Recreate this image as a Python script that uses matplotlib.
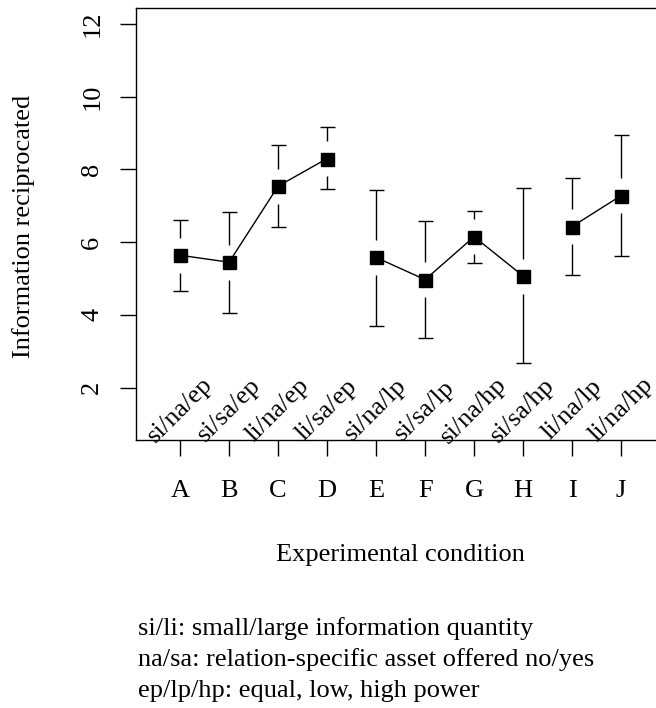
import matplotlib
matplotlib.use("Agg")
import matplotlib.pyplot as plt
import numpy as np

# ---- data ----
conditions = ["A", "B", "C", "D", "E", "F", "G", "H", "I", "J"]
codes = ["si/na/ep", "si/sa/ep", "li/na/ep", "li/sa/ep", "si/na/lp",
         "si/sa/lp", "si/na/hp", "si/sa/hp", "li/na/lp", "li/na/hp"]
means = [5.64, 5.45, 7.54, 8.30, 5.58, 4.97, 6.15, 5.07, 6.43, 7.28]
lower = [4.65, 4.05, 6.41, 7.45, 3.70, 3.36, 5.44, 2.67, 5.11, 5.63]
upper = [6.61, 6.84, 8.67, 9.16, 7.44, 6.59, 6.85, 7.50, 7.76, 8.94]
groups = [0, 0, 0, 0, 1, 1, 1, 1, 2, 2]
yticks = [2, 4, 6, 8, 10, 12]
notes = ["si/li: small/large information quantity",
         "na/sa: relation-specific asset offered no/yes",
         "ep/lp/hp: equal, low, high power"]

plt.rcParams['font.family'] = ['Liberation Serif', 'DejaVu Serif']
FS = 19

W, H = 656, 708
fig = plt.figure(figsize=(W / 100, H / 100), dpi=100)
L, R, T, B = 136, 665.2, 8, 440
ax = fig.add_axes([L / W, 1 - B / H, (R - L) / W, (B - T) / H])

x = np.arange(1, len(conditions) + 1)
m = np.array(means)
lo = np.array(lower)
hi = np.array(upper)
g = np.array(groups)

ax.set_xlim(0.1, 10.9)
ax.set_ylim(0.56, 12.44)

# pixel -> data conversions for gap around the markers
px_per_y = (B - T) / (12.44 - 0.56)
gap = 17.5 / px_per_y

for gi in np.unique(g):
    sel = g == gi
    ax.plot(x[sel], m[sel], color="black", lw=1.0, zorder=2)

ax.vlines(x, m + gap, hi, color="black", lw=1.0, zorder=2)
ax.vlines(x, lo, m - gap, color="black", lw=1.0, zorder=2)
cap = 15 * 0.72
ax.plot(x, hi, ls="none", marker="_", ms=cap, mew=1.0, color="black", zorder=2)
ax.plot(x, lo, ls="none", marker="_", ms=cap, mew=1.0, color="black", zorder=2)
ax.plot(x, m, ls="none", marker="s", ms=13 * 0.72, color="black", zorder=3)

for xi, c in zip(x, codes):
    ax.text(xi, 1.38, c, rotation=45, rotation_mode="anchor",
            ha="center", va="center", fontsize=FS)

ax.set_xticks(x)
ax.set_xticklabels(conditions, fontsize=FS)
ax.set_yticks(yticks)
ax.set_yticklabels([str(v) for v in yticks], fontsize=FS, rotation=90,
                   va="center")
ax.tick_params(axis="x", length=11.5, width=1.0, pad=17)
ax.tick_params(axis="y", length=11.5, width=1.0, pad=12)
for s in ax.spines.values():
    s.set_linewidth(1.0)

fig.text(400 / W, 1 - 561 / H, "Experimental condition", ha="center",
         va="baseline", fontsize=FS)
fig.text(30 / W, 1 - 226 / H, "Information reciprocated", rotation=90,
         rotation_mode="anchor", ha="center", va="baseline", fontsize=FS)

for i, line in enumerate(notes):
    fig.text(138 / W, 1 - (635 + 31 * i) / H, line, ha="left",
             va="baseline", fontsize=FS)

fig.savefig("out.png", dpi=100)
